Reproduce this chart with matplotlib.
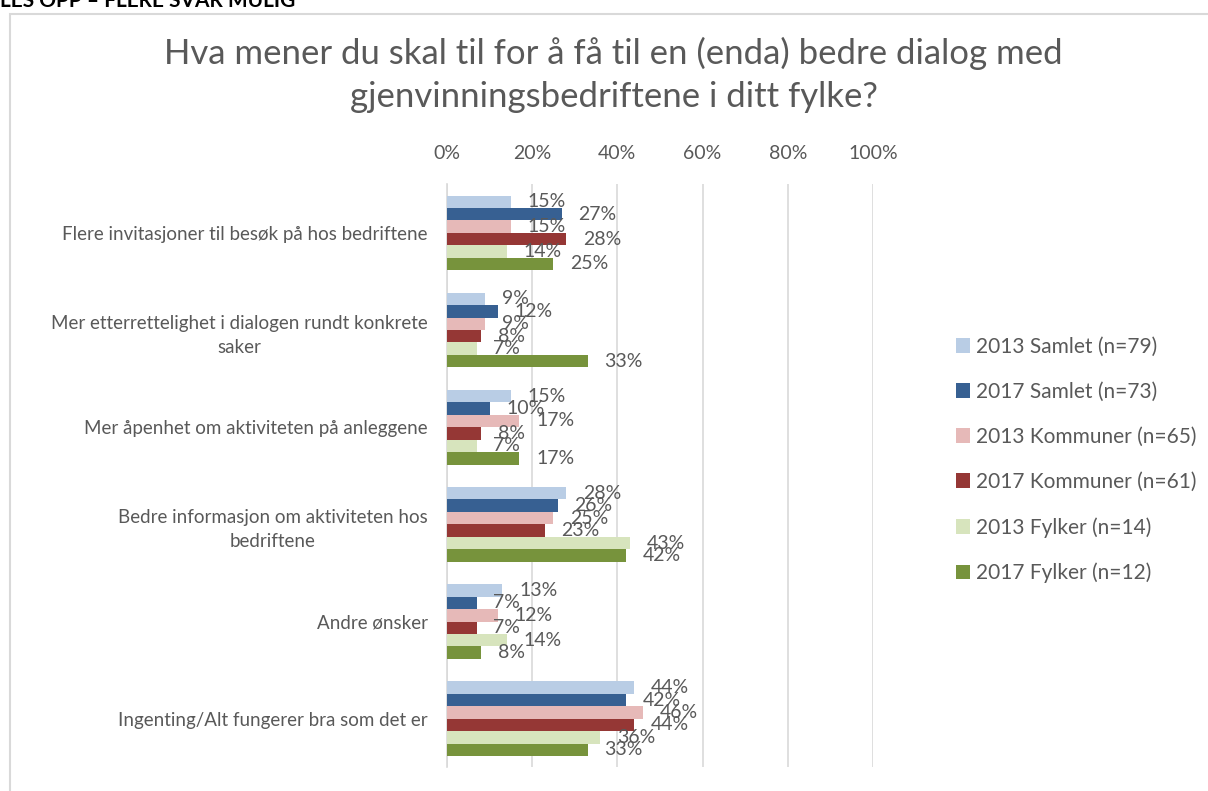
import numpy as np
import matplotlib
matplotlib.use('Agg')
import matplotlib.pyplot as plt
from matplotlib.patches import Rectangle

plt.rcParams['font.family'] = ['Lato', 'DejaVu Sans']

categories = ['Flere invitasjoner til besøk på hos bedriftene',
              'Mer etterrettelighet i dialogen rundt konkrete\nsaker',
              'Mer åpenhet om aktiviteten på anleggene',
              'Bedre informasjon om aktiviteten hos\nbedriftene',
              'Andre ønsker',
              'Ingenting/Alt fungerer bra som det er']
series = ['2013 Samlet (n=79)', '2017 Samlet (n=73)', '2013 Kommuner (n=65)',
          '2017 Kommuner (n=61)', '2013 Fylker (n=14)', '2017 Fylker (n=12)']
values = [
    [15, 9, 15, 28, 13, 44],   # 2013 Samlet
    [27, 12, 10, 26, 7, 42],   # 2017 Samlet
    [15, 9, 17, 25, 12, 46],   # 2013 Kommuner
    [28, 8, 8, 23, 7, 44],     # 2017 Kommuner
    [14, 7, 7, 43, 14, 36],    # 2013 Fylker
    [25, 33, 17, 42, 8, 33],   # 2017 Fylker
]
colors = ['#b9cde5', '#376092', '#e6b9b8', '#953735', '#d7e4bd', '#77933c']
xticks = [0, 20, 40, 60, 80, 100]

txt = '#595959'
fig = plt.figure(figsize=(12.08, 7.91), dpi=100)
ax = fig.add_axes([0.370, 0.030, 0.3526, 0.737])

n = len(series)
h = 0.128
y = np.arange(len(categories))
for i in range(n):
    pos = y - (n - 1) / 2 * h + i * h
    bars = ax.barh(pos, values[i], height=h, color=colors[i], label=series[i], zorder=3)
    for b, v in zip(bars, values[i]):
        ax.annotate(f'{v}%', (v, b.get_y() + h / 2), xytext=(12, 0),
                    textcoords='offset points', va='center', ha='left',
                    fontsize=14, color=txt)

ax.set_xlim(0, 100)
ax.set_ylim(len(categories) - 0.5, -0.5)
ax.xaxis.tick_top()
ax.set_xticks(xticks)
ax.set_xticklabels([f'{t}%' for t in xticks], fontsize=14, color=txt)
ax.tick_params(axis='x', length=0, pad=16)
ax.set_yticks(y)
ax.set_yticklabels(categories, fontsize=13.5, color=txt, multialignment='center',
                   linespacing=1.5)
ax.tick_params(axis='y', length=0, pad=14)
ax.grid(axis='x', color='#d9d9d9', linewidth=1.2, zorder=0)
for s in ['top', 'right', 'bottom']:
    ax.spines[s].set_visible(False)
ax.spines['left'].set_color('#d9d9d9')
ax.spines['left'].set_linewidth(1.2)

leg = ax.legend(loc='center left', bbox_to_anchor=(1.15, 0.527), frameon=False,
                fontsize=15, labelcolor=txt, handlelength=0.7, handleheight=0.7,
                handletextpad=0.3, labelspacing=1.2)

fig.text(0.508, 0.905, 'Hva mener du skal til for å få til en (enda) bedre dialog med\ngjenvinningsbedriftene i ditt fylke?',
         ha='center', va='center', fontsize=25, color=txt, linespacing=1.42)

# chart frame and cut-off heading above it
fig.add_artist(Rectangle((10 / 1208, -0.05), 1.1, 1 - 14 / 791 + 0.05, transform=fig.transFigure,
                         fill=False, edgecolor='#d9d9d9', linewidth=1.5))
fig.text(0.0, 1 - 7 / 791, 'LES OPP – FLERE SVAR MULIG', ha='left', va='baseline',
         fontsize=15, color='black', fontweight='bold')

fig.savefig('out.png', dpi=100)
